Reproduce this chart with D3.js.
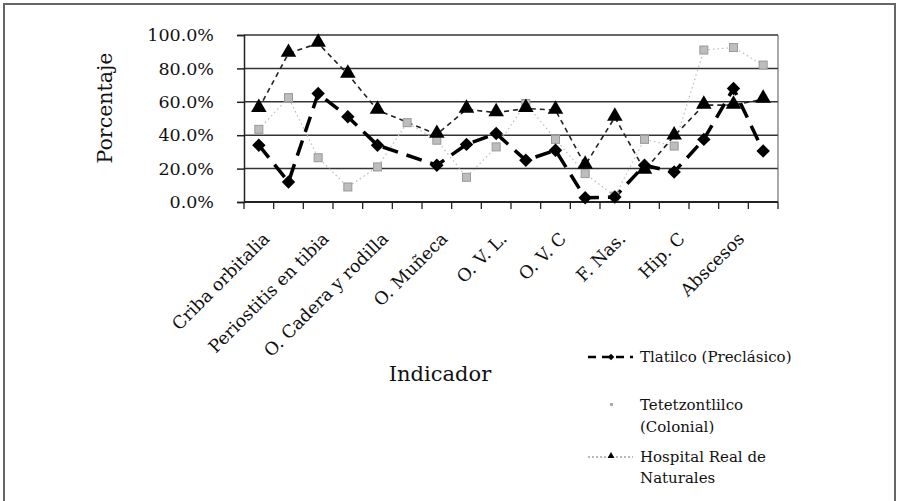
<!DOCTYPE html>
<html lang="es">
	<head>
		<meta charset="utf-8">
		<title>Porcentaje por indicador</title>
		<script type="text/javascript" src="https://cdn.jsdelivr.net/npm/d3@7"></script>
		<style type="text/css">
			body { margin: 0; background: #fff; }
			svg { display: block; }
			text { font-family: "DejaVu Serif", serif; fill: #111; }
		</style>
	</head>
	<body>
		<script type="text/javascript">

			//Categories (only every other one carries a label)
			var categories = ["Criba orbitalia", "", "Periostitis en tibia", "", "O. Cadera y rodilla", "",
							  "O. Muñeca", "", "O. V. L.", "", "O. V. C", "", "F. Nas.", "", "Hip. C", "",
							  "Abscesos", ""];

			//Series values in percent (null = no value)
			var tlatilco = [34, 12, 65, 51, 34, null, 22, 34.5, 41, 25, 31, 2.5, 3, 22, 18, 37.5, 68, 30.5];
			var tetetzontlilco = [43.5, 62.5, 26.5, 9, 21, 47.5, 37, 14.8, 33, 59, 37.5, 17, 3.5, 37.5, 33.5, 91, 92.5, 82];
			var hospital = [56, 89, 95, 76.5, 55, null, 40.5, 55.5, 53.5, 56, 55, 22, 50.7, 19, 39.5, 58, 58, 61.5];

			var yTicks = [0, 20, 40, 60, 80, 100];

			//Size and plot area
			var w = 897;
			var h = 501;
			var plotLeft = 244, plotRight = 778, plotTop = 35, plotBottom = 202;

			var svg = d3.select("body")
						.append("svg")
						.attr("width", w)
						.attr("height", h);

			//Frame around the figure
			svg.append("path")
			   .attr("d", "M4,501 V4 H895 V501")
			   .attr("fill", "none")
			   .attr("stroke", "#666")
			   .attr("stroke-width", 2);

			//Scales
			var xScale = d3.scaleBand()
							.domain(d3.range(categories.length))
							.range([plotLeft, plotRight]);

			var yScale = d3.scaleLinear()
							.domain([0, 100])
							.range([plotBottom, plotTop]);

			var cx = function(i) { return xScale(i) + xScale.bandwidth() / 2; };

			//Gridlines
			svg.append("g")
			   .selectAll("line")
			   .data(yTicks.slice(1))
			   .enter()
			   .append("line")
			   .attr("x1", plotLeft)
			   .attr("x2", plotRight)
			   .attr("y1", function(d) { return yScale(d); })
			   .attr("y2", function(d) { return yScale(d); })
			   .attr("stroke", "#333")
			   .attr("stroke-width", 1.5);

			//Right border of plot area
			svg.append("line")
			   .attr("x1", plotRight).attr("x2", plotRight)
			   .attr("y1", plotTop).attr("y2", plotBottom)
			   .attr("stroke", "#555")
			   .attr("stroke-width", 1);

			//Y axis
			var yAxis = svg.append("g")
						   .attr("transform", "translate(" + plotLeft + ",0)")
						   .call(d3.axisLeft(yScale)
								   .tickValues(yTicks)
								   .tickSize(7)
								   .tickPadding(23)
								   .tickFormat(function(d) { return d.toFixed(1) + "%"; }));
			yAxis.select(".domain").attr("stroke", "#222").attr("stroke-width", 1.5);
			yAxis.selectAll(".tick line").attr("stroke", "#222").attr("stroke-width", 1.5);
			yAxis.selectAll("text")
				 .attr("font-family", "DejaVu Serif")
				 .attr("font-size", "17.5px")
				 .attr("fill", "#111");

			//X axis: ticks at category boundaries
			var xAxis = svg.append("g")
						   .attr("transform", "translate(0," + plotBottom + ")");
			xAxis.append("line")
				 .attr("x1", plotLeft).attr("x2", plotRight)
				 .attr("y1", 0).attr("y2", 0)
				 .attr("stroke", "#222")
				 .attr("stroke-width", 1.8);
			xAxis.selectAll(".xtick")
				 .data(d3.range(categories.length + 1))
				 .enter()
				 .append("line")
				 .attr("class", "xtick")
				 .attr("x1", function(d) { return plotLeft + d * xScale.step(); })
				 .attr("x2", function(d) { return plotLeft + d * xScale.step(); })
				 .attr("y1", 0)
				 .attr("y2", 7)
				 .attr("stroke", "#222")
				 .attr("stroke-width", 1.3);

			//Rotated category labels
			svg.append("g")
			   .selectAll("text")
			   .data(d3.range(categories.length).filter(function(i) { return categories[i] !== ""; }))
			   .enter()
			   .append("text")
			   .attr("transform", function(i) {
					return "translate(" + (cx(i) + 3) + "," + (plotBottom + 29) + ") rotate(-45)";
			   })
			   .attr("text-anchor", "end")
			   .attr("dy", "0.71em")
			   .attr("font-size", "17.5px")
			   .text(function(i) { return categories[i]; });

			//Axis titles
			svg.append("text")
			   .attr("transform", "translate(112,108) rotate(-90)")
			   .attr("text-anchor", "middle")
			   .attr("font-size", "20.5px")
			   .text("Porcentaje");

			svg.append("text")
			   .attr("x", 440)
			   .attr("y", 381)
			   .attr("text-anchor", "middle")
			   .attr("font-size", "21px")
			   .text("Indicador");

			//Line generator
			var line = d3.line()
						 .x(function(d) { return cx(d.i); })
						 .y(function(d) { return yScale(d.v); });

			var toPoints = function(arr) {
				return arr.map(function(v, i) { return { i: i, v: v }; })
						  .filter(function(d) { return d.v !== null; });
			};

			var tetPts = toPoints(tetetzontlilco);
			var hosPts = toPoints(hospital);
			var tlaPts = toPoints(tlatilco);

			//Tetetzontlilco: faint dotted line + small grey squares
			svg.append("path")
			   .attr("d", line(tetPts))
			   .attr("fill", "none")
			   .attr("stroke", "#bbb")
			   .attr("stroke-width", 1.2)
			   .attr("stroke-dasharray", "1.5,3");

			//Hospital: dashed line + triangles
			svg.append("path")
			   .attr("d", line(hosPts))
			   .attr("fill", "none")
			   .attr("stroke", "#222")
			   .attr("stroke-width", 1.6)
			   .attr("stroke-dasharray", "5,4");

			//Tlatilco: thick long-dash line + diamonds
			svg.append("path")
			   .attr("d", line(tlaPts))
			   .attr("fill", "none")
			   .attr("stroke", "#000")
			   .attr("stroke-width", 3.5)
			   .attr("stroke-dasharray", "16,9");

			svg.append("g")
			   .selectAll("rect")
			   .data(tetPts)
			   .enter()
			   .append("rect")
			   .attr("x", function(d) { return cx(d.i) - 4; })
			   .attr("y", function(d) { return yScale(d.v) - 4; })
			   .attr("width", 8)
			   .attr("height", 8)
			   .attr("fill", "#bdbdbd")
			   .attr("stroke", "#999")
			   .attr("stroke-width", 1);

			svg.append("g")
			   .selectAll("path")
			   .data(hosPts)
			   .enter()
			   .append("path")
			   .attr("d", d3.symbol().type(d3.symbolTriangle).size(105))
			   .attr("transform", function(d) {
					return "translate(" + cx(d.i) + "," + (yScale(d.v) - 1) + ")";
			   })
			   .attr("fill", "#000");

			svg.append("g")
			   .selectAll("path")
			   .data(tlaPts)
			   .enter()
			   .append("path")
			   .attr("d", d3.symbol().type(d3.symbolSquare).size(90))
			   .attr("transform", function(d) {
					return "translate(" + cx(d.i) + "," + yScale(d.v) + ") rotate(45)";
			   })
			   .attr("fill", "#000");

			//Legend
			var legend = svg.append("g");

			legend.append("line")
				  .attr("x1", 588).attr("x2", 633)
				  .attr("y1", 357).attr("y2", 357)
				  .attr("stroke", "#000")
				  .attr("stroke-width", 2.5)
				  .attr("stroke-dasharray", "8,6");
			legend.append("path")
				  .attr("d", d3.symbol().type(d3.symbolSquare).size(22))
				  .attr("transform", "translate(611,357) rotate(45)")
				  .attr("fill", "#000");
			legend.append("text")
				  .attr("x", 640).attr("y", 362)
				  .attr("font-size", "15px")
				  .text("Tlatilco (Preclásico)");

			legend.append("rect")
				  .attr("x", 610).attr("y", 403)
				  .attr("width", 3).attr("height", 3)
				  .attr("fill", "#aaa");
			legend.append("text")
				  .attr("x", 640).attr("y", 410)
				  .attr("font-size", "15px")
				  .text("Tetetzontlilco");
			legend.append("text")
				  .attr("x", 640).attr("y", 432)
				  .attr("font-size", "15px")
				  .text("(Colonial)");

			legend.append("line")
				  .attr("x1", 588).attr("x2", 633)
				  .attr("y1", 457).attr("y2", 457)
				  .attr("stroke", "#777")
				  .attr("stroke-width", 1)
				  .attr("stroke-dasharray", "2,2");
			legend.append("path")
				  .attr("d", d3.symbol().type(d3.symbolTriangle).size(20))
				  .attr("transform", "translate(611,456)")
				  .attr("fill", "#000");
			legend.append("text")
				  .attr("x", 640).attr("y", 462)
				  .attr("font-size", "15px")
				  .text("Hospital Real de");
			legend.append("text")
				  .attr("x", 640).attr("y", 483)
				  .attr("font-size", "15px")
				  .text("Naturales");

		</script>
	</body>
</html>
